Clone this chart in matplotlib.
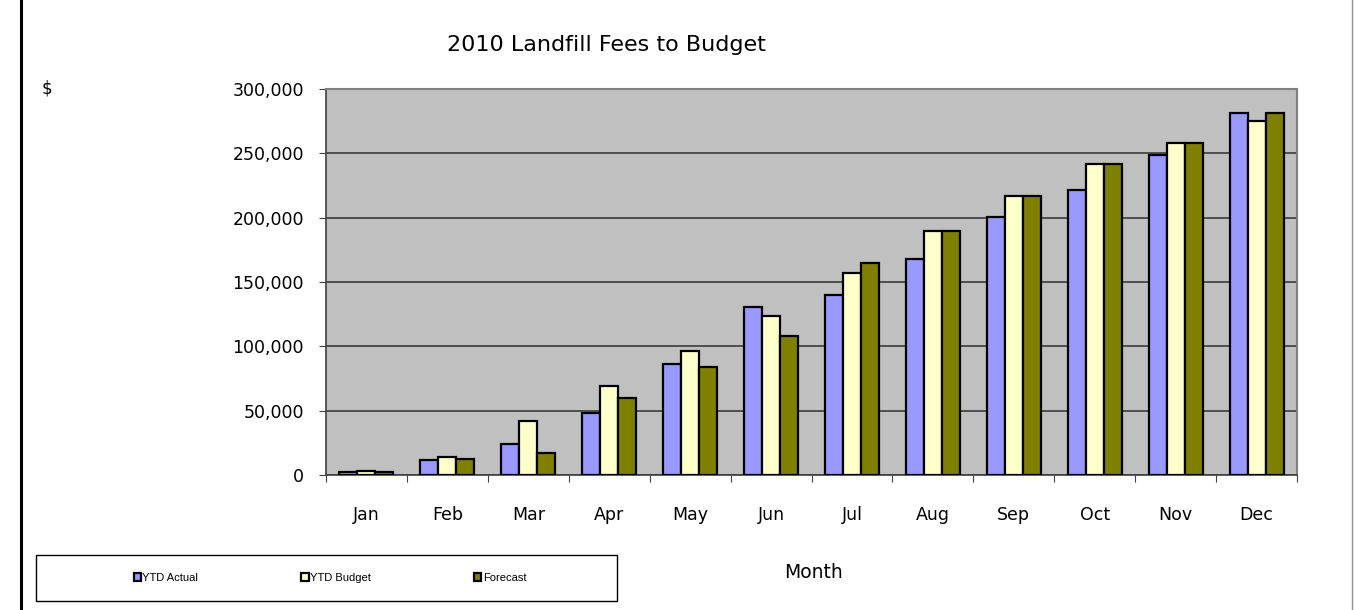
import numpy as np
import matplotlib
matplotlib.use("Agg")
import matplotlib.pyplot as plt
from matplotlib.patches import Rectangle
from matplotlib.lines import Line2D
from matplotlib.ticker import FuncFormatter, MultipleLocator

# Dados
meses = ["Jan", "Feb", "Mar", "Apr", "May", "Jun",
         "Jul", "Aug", "Sep", "Oct", "Nov", "Dec"]
ytd_actual = [2600, 12000, 24000, 47800, 86600, 130400,
              140000, 168000, 200500, 221600, 248500, 281000]
ytd_budget = [3300, 14000, 42000, 69000, 96300, 123700,
              157000, 189800, 217000, 242000, 258000, 275000]
forecast = [2600, 12600, 17000, 59700, 84000, 107700,
            165000, 189800, 217000, 242000, 258000, 281000]

series = [("YTD Actual", ytd_actual, "#9999FF"),
          ("YTD Budget", ytd_budget, "#FFFFCC"),
          ("Forecast", forecast, "#808000")]

plt.rcParams["font.family"] = ["DejaVu Sans"]

fig = plt.figure(figsize=(13.54, 6.10), dpi=100)
ax = fig.add_axes([326 / 1354, 1 - 475 / 610, 971 / 1354, 386 / 610])
ax.set_facecolor("#C0C0C0")

x = np.arange(len(meses))
larg = 1 / 4.5
for j, (nome, valores, cor) in enumerate(series):
    ax.bar(x + (j - 1) * larg, valores, width=larg, color=cor,
           edgecolor="black", linewidth=1.6, label=nome, zorder=3)

ax.set_xlim(-0.5, len(meses) - 0.5)
ax.set_ylim(0, 300000)
ax.yaxis.set_major_locator(MultipleLocator(50000))
ax.yaxis.set_major_formatter(FuncFormatter(lambda v, p: "{:,.0f}".format(v)))
ax.grid(axis="y", color="#303030", linewidth=1.1, zorder=1)

# Marcas entre as categorias, rótulos no centro
ax.set_xticks(np.arange(-0.5, len(meses)), minor=False)
ax.set_xticklabels([])
ax.set_xticks(x, minor=True)
ax.set_xticklabels(meses, minor=True, fontsize=12.5)
ax.tick_params(axis="x", which="minor", length=0, pad=22)
ax.tick_params(axis="x", which="major", length=5, color="#404040",
               direction="out")
ax.tick_params(axis="y", length=5, color="#404040", labelsize=12.5, pad=11)

for lado in ["top", "right"]:
    ax.spines[lado].set_color("#808080")
    ax.spines[lado].set_linewidth(1.5)
for lado in ["left", "bottom"]:
    ax.spines[lado].set_color("#404040")
    ax.spines[lado].set_linewidth(1.2)

fig.text(606 / 1354, 1 - 45 / 610, "2010 Landfill Fees to Budget",
         ha="center", va="center", fontsize=16)
fig.text(47 / 1354, 1 - 89 / 610, "$", ha="center", va="center",
         fontsize=12)
fig.text(813 / 1354, 1 - 573 / 610, "Month", ha="center", va="center",
         fontsize=13.5)

# Bordas da figura
fig.add_artist(Line2D([21 / 1354, 21 / 1354], [0, 1], color="black",
                      linewidth=2.2))
fig.add_artist(Line2D([1352 / 1354, 1352 / 1354], [0, 1], color="#909090",
                      linewidth=1))

# Caixa da legenda
fig.add_artist(Rectangle((36 / 1354, 1 - 601 / 610), 581 / 1354, 46 / 610,
                         transform=fig.transFigure, facecolor="white",
                         edgecolor="black", linewidth=1))
handles, labels = ax.get_legend_handles_labels()
leg = fig.legend(handles, labels, loc="center", ncol=3,
                 bbox_to_anchor=(330 / 1354, 1 - 578 / 610),
                 frameon=False, handlelength=0.65, handleheight=0.65,
                 handletextpad=0.12, columnspacing=9.3,
                 prop={"family": ["Liberation Sans Narrow", "Liberation Sans"],
                       "size": 8})

plt.savefig("out.png", dpi=100)
